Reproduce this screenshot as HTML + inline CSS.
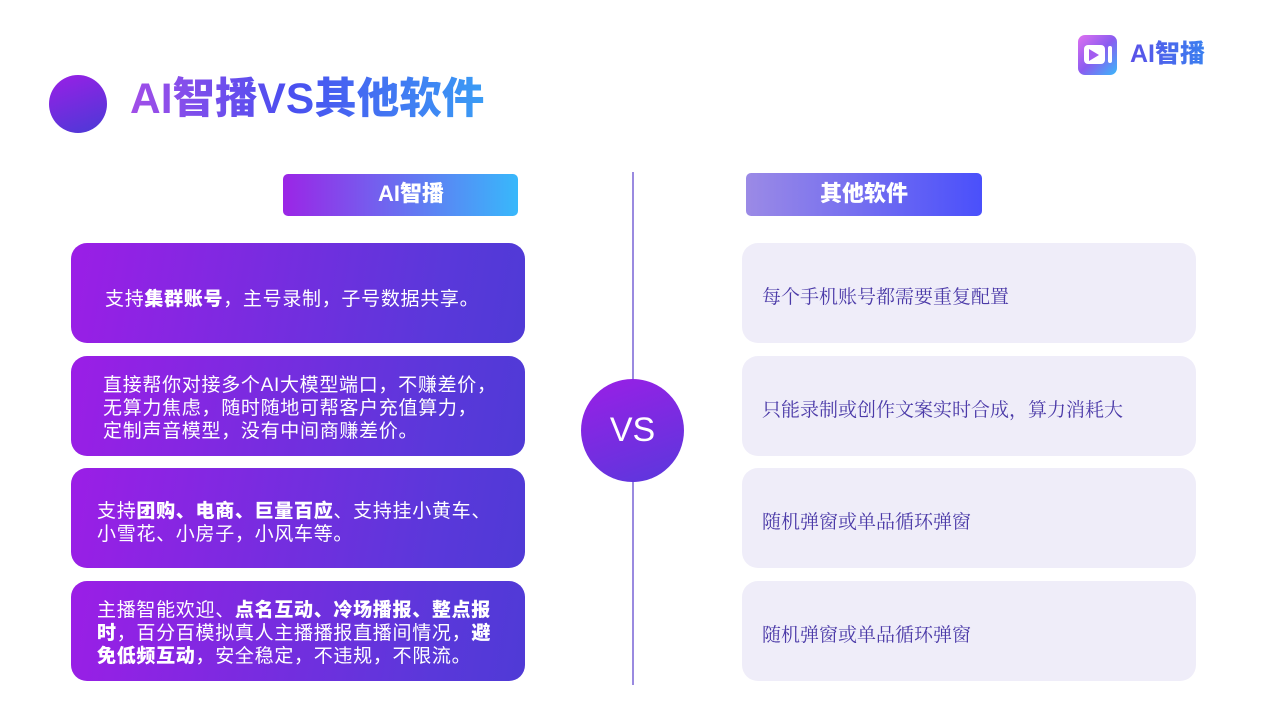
<!DOCTYPE html>
<html><head><meta charset="utf-8"><style>
*{margin:0;padding:0;box-sizing:border-box}
body{width:1280px;height:720px;background:#fff;position:relative;overflow:hidden;font-family:"Liberation Sans","Noto Sans CJK SC",sans-serif}
.a{position:absolute}
.title{left:130px;top:72px;font-size:42.5px;font-weight:900;background:linear-gradient(90deg,#a24ee8,#4a4ef0 45%,#3a9cf5);-webkit-background-clip:text;background-clip:text;color:transparent;line-height:56px;white-space:nowrap}
.lb{left:71px;width:454px;height:100px;border-radius:16px;background:linear-gradient(100deg,#9b1ee6,#5a38da 80%,#4f3ad6);color:#fff;font-size:19px;letter-spacing:0.7px;line-height:23px;display:flex;align-items:center;padding:0 0 0 30px;white-space:nowrap}
.rb{left:742px;width:454px;height:100px;border-radius:16px;background:#efedf9;color:#4b3aa8;font-size:19px;font-family:"Liberation Serif","Noto Serif CJK SC",serif;display:flex;align-items:center;padding:4px 20px 0}
b{font-weight:900}
</style></head><body>
<div class="a" style="left:49px;top:75px;width:58px;height:58px;border-radius:50%;background:linear-gradient(160deg,#9a1fe6,#4a3ad6)"></div>
<div class="a title">AI智播VS其他软件</div>
<div class="a" style="left:1078px;top:35px;width:39px;height:40px;border-radius:7px;background:linear-gradient(135deg,#e070f0,#8a5cf0 50%,#3ab8fa)"></div>
<div class="a" style="left:1084px;top:45px;width:21px;height:19px;border-radius:4px;background:#fff"></div>
<div class="a" style="left:1089px;top:49px;width:0;height:0;border-left:10px solid #a35cf0;border-top:6px solid transparent;border-bottom:6px solid transparent"></div>
<div class="a" style="left:1108px;top:46px;width:4px;height:17px;border-radius:2px;background:#fff"></div>
<div class="a" style="left:1130px;top:37px;font-size:25px;font-weight:900;line-height:34px;background:linear-gradient(90deg,#5a50e8,#3a80f0);-webkit-background-clip:text;background-clip:text;color:transparent">AI智播</div>

<div class="a" style="left:283px;top:174px;width:235px;height:42px;border-radius:5px;background:linear-gradient(90deg,#9b25e6,#38b8fb)"></div>
<div class="a" style="left:283px;top:174px;width:256px;height:42px;text-align:center;line-height:40px;color:#fff;font-size:22px;font-weight:900">AI智播</div>
<div class="a" style="left:746px;top:173px;width:236px;height:43px;border-radius:5px;background:linear-gradient(90deg,#9b8ae6,#4a50fb);text-align:center;line-height:41px;color:#fff;font-size:22px;font-weight:900">其他软件</div>

<div class="a" style="left:632px;top:172px;width:2px;height:513px;background:#9a8ae0"></div>
<div class="a" style="left:581px;top:379px;width:103px;height:103px;border-radius:50%;background:linear-gradient(160deg,#9a1fe6,#5a38dc);color:#fff;font-size:34px;text-align:center;line-height:103px">VS</div>

<div class="a lb" style="top:243px;padding-left:34px;padding-top:12px"><div>支持<b>集群账号</b>，主号录制，子号数据共享。</div></div>
<div class="a lb" style="top:356px;padding-left:32px;padding-top:4px"><div>直接帮你对接多个AI大模型端口，不赚差价，<br>无算力焦虑，随时随地可帮客户充值算力，<br>定制声音模型，没有中间商赚差价。</div></div>
<div class="a lb" style="top:468px;padding-left:26px;padding-top:10px"><div>支持<b>团购、电商、巨量百应</b>、支持挂小黄车、<br>小雪花、小房子，小风车等。</div></div>
<div class="a lb" style="top:581px;padding-left:26px;padding-top:4px"><div>主播智能欢迎、<b>点名互动、冷场播报、整点报</b><br><b>时</b>，百分百模拟真人主播播报直播间情况，<b>避</b><br><b>免低频互动</b>，安全稳定，不违规，不限流。</div></div>

<div class="a rb" style="top:243px">每个手机账号都需要重复配置</div>
<div class="a rb" style="top:356px">只能录制或创作文案实时合成，算力消耗大</div>
<div class="a rb" style="top:468px">随机弹窗或单品循环弹窗</div>
<div class="a rb" style="top:581px">随机弹窗或单品循环弹窗</div>
</body></html>
